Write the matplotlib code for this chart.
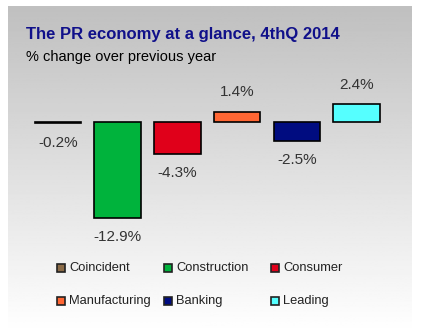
import numpy as np
import matplotlib.pyplot as plt
from matplotlib.patches import Rectangle

categories = ["Coincident", "Construction", "Consumer", "Manufacturing", "Banking", "Leading"]
values = [-0.2, -12.9, -4.3, 1.4, -2.5, 2.4]
colors = ["#8B6B47", "#00B33C", "#E0001A", "#FF6633", "#000C80", "#55FFFF"]

W, H = 422, 332
fig = plt.figure(figsize=(W / 100, H / 100), dpi=100)
fig.patch.set_facecolor("white")


def px_axes(x0, y0, x1, y1):
    return fig.add_axes([x0 / W, 1 - y1 / H, (x1 - x0) / W, (y1 - y0) / H])


# gray-to-white gradient panel
bg = px_axes(8, 6, 412, 332)
grad = np.linspace(0.75, 1.0, 256).reshape(-1, 1)
bg.imshow(grad, cmap="gray", vmin=0, vmax=1, aspect="auto", extent=[0, 1, 0, 1], origin="upper")
bg.set_axis_off()

fig.text(26 / W, 1 - 35 / H, "The PR economy at a glance, 4thQ 2014",
         fontsize=12, fontweight="bold", color="#10108A", va="center", family="Liberation Sans")
fig.text(26 / W, 1 - 57 / H, "% change over previous year",
         fontsize=10.5, color="black", va="center", family="Liberation Sans")

ax = px_axes(28.15, 84.8, 386.35, 233.6)
ax.set_xlim(-0.5, 5.5)
ax.set_ylim(-15, 5)
ax.patch.set_alpha(0)
ax.set_axis_off()

x = np.arange(len(categories))
ax.bar(x, values, width=0.78, color=colors, edgecolor="black", linewidth=1.2)
for xi, v in zip(x, values):
    off = 2.6
    y = v + off if v > 0 else v - off
    ax.text(xi, y, f"{v:.1f}%", ha="center", va="center", fontsize=11,
            color="#333333", family="Liberation Sans", clip_on=False)

# legend laid out row by row, three per row
for i, (name, c) in enumerate(zip(categories, colors)):
    row, col = divmod(i, 3)
    lx = 61 + col * 107
    ly = 268 + row * 33
    fig.add_artist(Rectangle(((lx - 4) / W, 1 - (ly + 4) / H), 8 / W, 8 / H,
                             transform=fig.transFigure, facecolor=c,
                             edgecolor="#222222", linewidth=1.2))
    fig.text((lx + 8) / W, 1 - ly / H, name, fontsize=9.3, va="center",
             color="#222222", family="Liberation Sans")

fig.savefig("out.png", dpi=100)
